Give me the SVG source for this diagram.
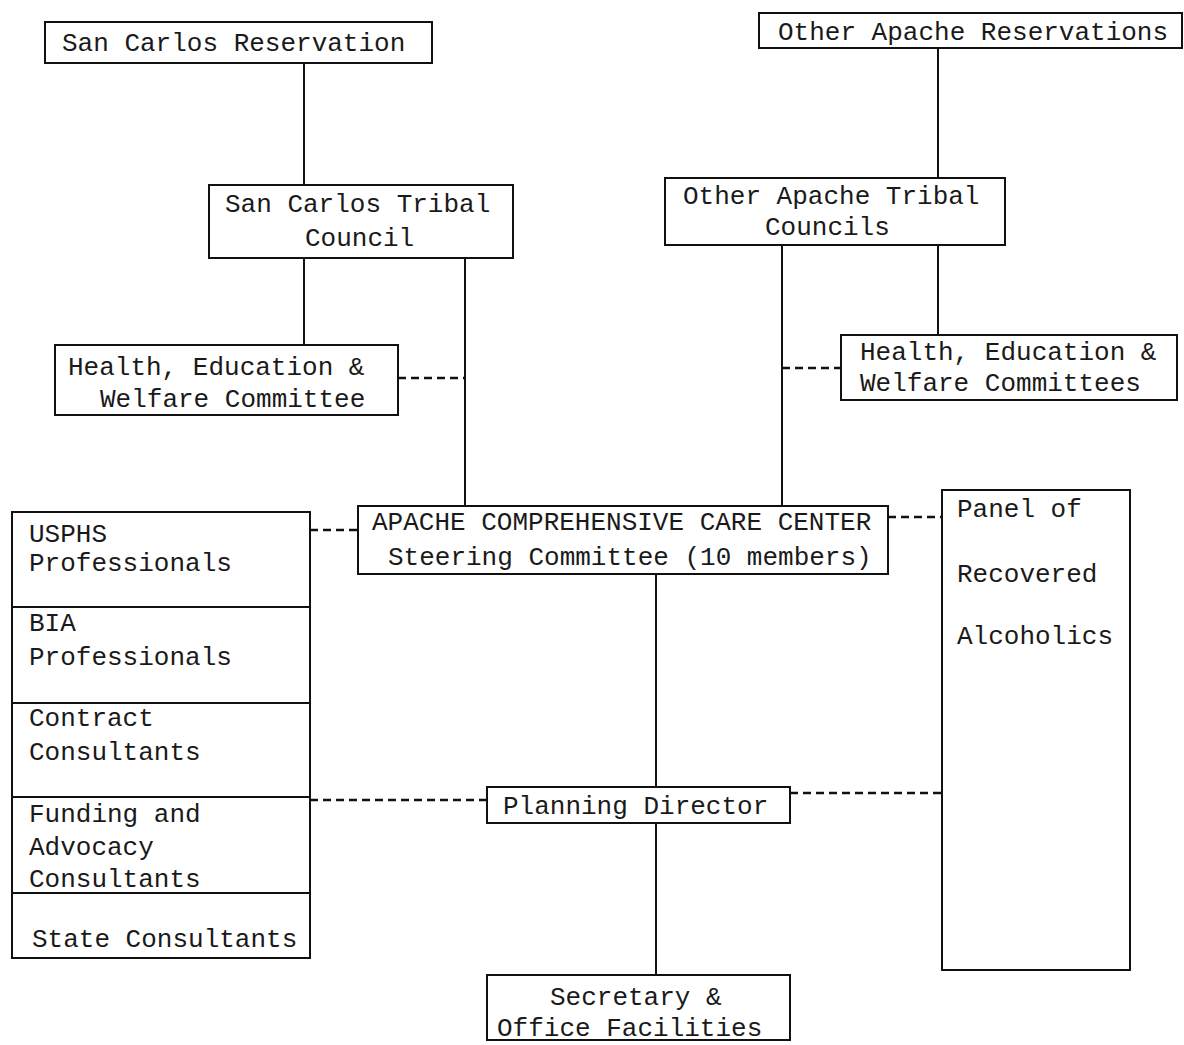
<svg xmlns="http://www.w3.org/2000/svg" width="1184" height="1045" viewBox="0 0 1184 1045">
<style>
  .box{fill:none;stroke:#111;stroke-width:2}
  .t{font-family:"Liberation Mono","Courier New",monospace;font-size:26px;fill:#1a1a1a}
  .ln{stroke:#111;stroke-width:2;fill:none}
  .ds{stroke:#111;stroke-width:2.5;fill:none;stroke-dasharray:8,5}
</style>
<rect width="1184" height="1045" fill="#fff"/>
<g id="connectors">
  <path class="ln" d="M304,63 V185"/>
  <path class="ln" d="M938,47 V178"/>
  <path class="ln" d="M304,258 V345"/>
  <path class="ln" d="M465,258 V506"/>
  <path class="ln" d="M782,245 V506"/>
  <path class="ln" d="M938,245 V335"/>
  <path class="ln" d="M656,574 V787"/>
  <path class="ln" d="M656,823 V975"/>
  <path class="ds" d="M398,378 H465"/>
  <path class="ds" d="M782,368 H841"/>
  <path class="ds" d="M310,530 H358"/>
  <path class="ds" d="M888,517 H942"/>
  <path class="ds" d="M310,800 H487"/>
  <path class="ds" d="M790,793 H942"/>
</g>
<g id="san-carlos-reservation">
  <rect class="box" x="45" y="22" width="387" height="41"/>
  <text class="t" x="62" y="51">San Carlos Reservation</text>
</g>
<g id="other-apache-reservations">
  <rect class="box" x="759" y="13" width="423" height="35"/>
  <text class="t" x="778" y="40">Other Apache Reservations</text>
</g>
<g id="san-carlos-tribal-council">
  <rect class="box" x="209" y="185" width="304" height="73"/>
  <text class="t" x="225" y="212">San Carlos Tribal</text>
  <text class="t" x="305" y="246">Council</text>
</g>
<g id="other-apache-tribal-councils">
  <rect class="box" x="665" y="178" width="340" height="67"/>
  <text class="t" x="683" y="204">Other Apache Tribal</text>
  <text class="t" x="765" y="235">Councils</text>
</g>
<g id="health-left">
  <rect class="box" x="55" y="345" width="343" height="70"/>
  <text class="t" x="68" y="375">Health, Education &amp;</text>
  <text class="t" x="100" y="407">Welfare Committee</text>
</g>
<g id="health-right">
  <rect class="box" x="841" y="335" width="336" height="65"/>
  <text class="t" x="860" y="360">Health, Education &amp;</text>
  <text class="t" x="860" y="391">Welfare Committees</text>
</g>
<g id="steering-committee">
  <rect class="box" x="358" y="506" width="530" height="68"/>
  <text class="t" x="372" y="530">APACHE COMPREHENSIVE CARE CENTER</text>
  <text class="t" x="388" y="565">Steering Committee (10 members)</text>
</g>
<g id="consultants-stack">
  <rect class="box" x="12" y="512" width="298" height="446"/>
  <path class="ln" d="M12,607 H310 M12,703 H310 M12,797 H310 M12,893 H310"/>
  <text class="t" x="29" y="542">USPHS</text>
  <text class="t" x="29" y="571">Professionals</text>
  <text class="t" x="29" y="631">BIA</text>
  <text class="t" x="29" y="665">Professionals</text>
  <text class="t" x="29" y="726">Contract</text>
  <text class="t" x="29" y="760">Consultants</text>
  <text class="t" x="29" y="822">Funding and</text>
  <text class="t" x="29" y="855">Advocacy</text>
  <text class="t" x="29" y="887">Consultants</text>
  <text class="t" x="32" y="947">State Consultants</text>
</g>
<g id="panel-recovered-alcoholics">
  <rect class="box" x="942" y="490" width="188" height="480"/>
  <text class="t" x="957" y="517">Panel of</text>
  <text class="t" x="957" y="582">Recovered</text>
  <text class="t" x="957" y="644">Alcoholics</text>
</g>
<g id="planning-director">
  <rect class="box" x="487" y="787" width="303" height="36"/>
  <text class="t" x="503" y="814">Planning Director</text>
</g>
<g id="secretary">
  <rect class="box" x="487" y="975" width="303" height="65"/>
  <text class="t" x="550" y="1005">Secretary &amp;</text>
  <text class="t" x="497" y="1036">Office Facilities</text>
</g>
</svg>
